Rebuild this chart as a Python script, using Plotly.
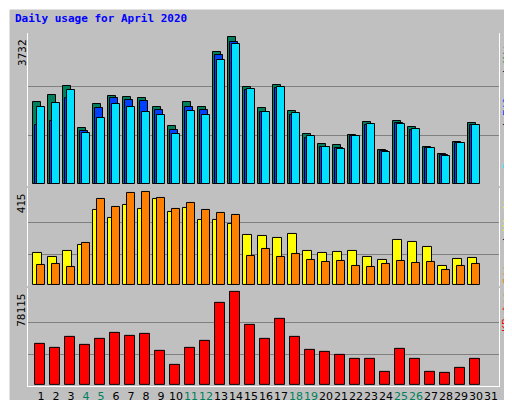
import plotly.graph_objects as go

days = list(range(1, 31))
hits = [2082, 2268, 2497, 1430, 2040, 2243, 2217, 2192, 1963, 1481, 2090, 1963, 3360, 3732, 2471,
        1938, 2522, 1862, 1278, 1024, 999, 1253, 1583, 872, 1608, 1456, 956, 770, 1075, 1557]
files = [1506, 1608, 2192, 1354, 1938, 2192, 2141, 2116, 1887, 1379, 1963, 1887, 3284, 3614, 2395,
         1836, 2446, 1760, 1176, 948, 922, 1227, 1506, 846, 1557, 1379, 931, 736, 1049, 1506]
pages = [1963, 2065, 2395, 1303, 1684, 2040, 1963, 1836, 1760, 1278, 1862, 1760, 3157, 3563, 2420,
         1836, 2471, 1811, 1227, 948, 897, 1227, 1532, 821, 1532, 1405, 922, 719, 1049, 1506]
visits = [144, 126, 153, 180, 333, 297, 355, 337, 382, 324, 342, 292, 288, 270, 225,
          220, 211, 229, 153, 144, 148, 153, 126, 112, 202, 193, 171, 85, 117, 121]
sites = [90, 94, 81, 189, 382, 346, 409, 413, 386, 337, 364, 333, 319, 310, 130,
         162, 126, 139, 112, 103, 108, 85, 81, 94, 108, 99, 103, 67, 85, 94]
kbytes = [34335, 30900, 40340, 33475, 38625, 43775, 41200, 42915, 28325, 17165, 30900, 36910, 68665, 78115, 50640,
          38625, 55790, 40340, 29180, 27465, 25750, 22315, 22315, 11160, 30040, 22315, 11160, 10300, 14590, 22315]
weekend = [4, 5, 11, 12, 18, 19, 25, 26]
max_labels = ["3732", "415", "78115"]

fig = go.Figure()

def bars(vals, off, w, color, ax):
    fig.add_trace(go.Bar(x=[d + off for d in days], y=vals, width=w, marker_color=color,
                         marker_line_color="black", marker_line_width=1, xaxis="x", yaxis=ax))

bars(hits, -0.27, 0.49, "#00805C", "y")
bars(files, -0.13, 0.49, "#0040FF", "y")
bars(pages, 0.0, 0.49, "#00E0FF", "y")
bars(visits, -0.23, 0.55, "#FFFF00", "y2")
bars(sites, 0.0, 0.49, "#FF8000", "y2")
bars(kbytes, -0.1, 0.66, "#FF0000", "y3")

ticktext = [f'<span style="color:#00805C">{d}</span>' if d in weekend else str(d) for d in range(1, 32)]

yax = dict(showticklabels=False, gridcolor="#808080", zeroline=False, showline=True,
           linecolor="white", mirror=True, fixedrange=True)
fig.update_layout(
    width=512, height=400, margin=dict(l=20, r=21, t=25, b=22),
    paper_bgcolor="#C0C0C0", plot_bgcolor="#C0C0C0",
    barmode="overlay", showlegend=False, bargap=0,
    font=dict(family="DejaVu Sans Mono", size=11, color="black"),
    xaxis=dict(range=[0.13, 31.53], tickvals=list(range(1, 32)), ticktext=ticktext, anchor="y3",
               showgrid=False, zeroline=False, showline=True, linecolor="white", ticks="",
               tickangle=0, automargin=False, tickfont=dict(family="DejaVu Sans", size=11)),
    yaxis=dict(domain=[0.567, 1], range=[-40, 3841], tickvals=[1244, 2488], **yax),
    yaxis2=dict(domain=[0.283, 0.561], range=[-4, 432], tickvals=[138, 277], **yax),
    yaxis3=dict(domain=[0, 0.278], range=[-800, 81550], tickvals=[26038, 52077], **yax),
)

for lab, top in zip(max_labels, [1.0, 0.561, 0.278]):
    fig.add_annotation(text=lab, textangle=-90, xref="paper", yref="paper", x=-0.013, y=top - 0.01,
                       xanchor="center", yanchor="top", showarrow=False, font=dict(size=11))

right = [
    ('<span style="color:#00E0FF">Pages</span> / <span style="color:#0040FF">Files</span> / '
     '<span style="color:#00805C">Hits</span>', 1.0),
    ('<span style="color:#FF8000">Sites</span> / <span style="color:#FFFF00">Visits</span>', 0.561),
    ('<span style="color:#FF0000">KBytes</span>', 0.278),
]
for txt, top in right:
    fig.add_annotation(text=txt, textangle=-90, xref="paper", yref="paper", x=1.017, y=top - 0.005,
                       xanchor="center", yanchor="top", showarrow=False, font=dict(size=11, color="black"))

fig.add_annotation(text="<b>Daily usage for April 2020</b>", xref="paper", yref="paper",
                   x=-0.032, y=1.04, xanchor="left", yanchor="middle", showarrow=False,
                   font=dict(color="#0000FF", size=11))

# 3D frame around the image
fx0, fx1 = -20 / 471, 492 / 471
fy0, fy1 = -21 / 353, 378 / 353
for x0, y0, x1, y1, c in [(fx0, fy0, fx0, fy1, "white"), (fx0, fy1, fx1, fy1, "white"),
                          (fx1, fy0, fx1, fy1, "#808080"), (fx0, fy0, fx1, fy0, "#808080")]:
    fig.add_shape(type="line", xref="paper", yref="paper", x0=x0, y0=y0, x1=x1, y1=y1,
                  line=dict(color=c, width=3))

fig.write_html("out.html")
